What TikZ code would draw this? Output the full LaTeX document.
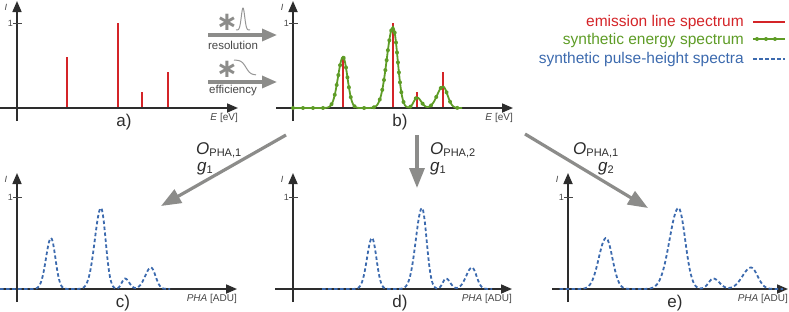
\documentclass[tikz,border=0pt]{standalone}
\usepackage{fontspec}
\setmainfont{Liberation Sans}
\newfontfamily\symfont{DejaVu Sans}
\usetikzlibrary{arrows.meta,decorations.markings}
\definecolor{redc}{RGB}{212,36,40}
\definecolor{greenc}{RGB}{94,156,38}
\definecolor{bluec}{RGB}{60,106,174}
\definecolor{grayarrow}{RGB}{140,140,138}
\definecolor{axisc}{RGB}{45,45,45}
\definecolor{labelc}{RGB}{70,70,70}
\definecolor{glyphc}{RGB}{150,150,150}

\pgfmathdeclarefunction{gs}{3}{%
  \pgfmathparse{exp(max(-15,-0.5*((#1-#2)/#3)*((#1-#2)/#3)))}%
}
\pgfmathdeclarefunction{gsa}{4}{%
  \pgfmathparse{gs(#1,#2,#3+(#4-#3)*(#1>#2))}%
}
\pgfmathdeclarefunction{spec}{1}{%
  \pgfmathparse{51*gsa(#1,50,5.0,4.4)+81*gsa(#1,100,6.2,4.6)+10.5*gsa(#1,124,3.2,4.2)+21.5*gsa(#1,150,5.8,4.5)}%
}

\tikzset{
  axisarrow/.style={draw=axisc, line width=1.7pt, -{Triangle[length=11pt,width=9pt]}},
  tickmark/.style={draw=labelc, line width=0.8pt},
  ticklbl/.style={font=\fontsize{9}{9}\selectfont, text=labelc, inner sep=0pt},
  ilbl/.style={font=\fontsize{9}{9}\selectfont\itshape, text=labelc, inner sep=0pt},
  xlbl/.style={font=\fontsize{10}{10}\selectfont, text=labelc, inner sep=0pt, anchor=east},
  plbl/.style={font=\fontsize{17}{17}\selectfont, text=axisc, inner sep=0pt},
  emline/.style={draw=redc, line width=1.6pt},
  emlinethin/.style={draw=redc, line width=1.2pt},
  legred/.style={draw=redc, line width=2pt},
  enspec/.style={draw=greenc, line width=1.8pt},
  endots/.style={postaction={decorate, decoration={markings,
      mark=between positions 0 and 1 step 10pt with {\fill[greenc] (0,0) circle (2pt);}}}},
  phaspec/.style={draw=bluec, line width=1.8pt, dash pattern=on 3.5pt off 2.5pt},
  bigarrow/.style={draw=grayarrow, line width=3.2pt, -{Triangle[length=20pt,width=15pt]}},
  smallarrow/.style={draw=grayarrow, line width=3.2pt, -{Triangle[length=15pt,width=12pt]}},
  oplbl/.style={font=\fontsize{17}{17}\selectfont, text=axisc, inner sep=0pt, anchor=base west},
  proclbl/.style={font=\fontsize{11.5}{11.5}\selectfont, text=labelc, inner sep=0pt},
  astlbl/.style={font=\symfont\bfseries\fontsize{26}{26}\selectfont, text=grayarrow, inner sep=0pt, anchor=base},
  glyph/.style={draw=glyphc, line width=1pt},
  legtxt/.style={font=\fontsize{15.5}{15.5}\selectfont, anchor=east, inner sep=0pt},
}

\newcommand\spaxes[8]{%
  \coordinate (#1xs) at (#4,#3);
  \coordinate (#1xe) at (#5,#3);
  \coordinate (#1yb) at (#2,#3+13);
  \coordinate (#1yt) at (#2,#6);
  \coordinate (#1tl) at (#2-4,#7);
  \coordinate (#1tr) at (#2+5,#7);
  \draw[axisarrow] (#1xs) -- (#1xe);
  \draw[axisarrow] (#1yb) -- (#1yt);
  \draw[tickmark] (#1tl) -- (#1tr);
  \node[ticklbl, anchor=east] (#1one) at (#1tl) {1};
  \node[ilbl] (#1I) at (#2-11,#6+6) {I};
  \node[xlbl] (#1xl) at (#5,#3+10) {#8};
}
\newcommand\opsub[1]{\raisebox{-2.5pt}{\fontsize{11}{11}\selectfont\upshape #1}}

\begin{document}
\begin{tikzpicture}[x=1pt,y=-1pt]
\useasboundingbox (0,0) rectangle (789,311);

% ---------- panel a: emission lines
\coordinate (a1b) at (67,108);  \coordinate (a1t) at (67,57);
\coordinate (a2b) at (118,108); \coordinate (a2t) at (118,23);
\coordinate (a3b) at (142,108); \coordinate (a3t) at (142,92);
\coordinate (a4b) at (168,108); \coordinate (a4t) at (168,72);
\draw[emline] (a1b) -- (a1t);
\draw[emline] (a2b) -- (a2t);
\draw[emline] (a3b) -- (a3t);
\draw[emline] (a4b) -- (a4t);
\spaxes{a}{17}{108}{0}{238}{1}{23}{\textit{E} [eV]}
\node[plbl] (pa) at (124,122) {a)};

% ---------- panel b: energy spectrum
\coordinate (b1b) at (343,108); \coordinate (b1t) at (343,57);
\coordinate (b2b) at (393,108); \coordinate (b2t) at (393,23);
\coordinate (b3b) at (417,108); \coordinate (b3t) at (417,92);
\coordinate (b4b) at (443,108); \coordinate (b4t) at (443,72);
\draw[emlinethin] (b1b) -- (b1t);
\draw[emlinethin] (b2b) -- (b2t);
\draw[emlinethin] (b3b) -- (b3t);
\draw[emlinethin] (b4b) -- (b4t);
\spaxes{b}{293}{108}{276}{513}{1}{23}{\textit{E} [eV]}
\draw[enspec, endots] plot[domain=0:169, samples=170] ({293+\x},{108-spec(\x)});
\node[plbl] (pb) at (400,122) {b)};

% ---------- processing arrows between a and b
\coordinate (r1) at (208,35); \coordinate (r2) at (277,35);
\coordinate (f1) at (208,82); \coordinate (f2) at (277,82);
\draw[smallarrow] (r1) -- (r2);
\draw[smallarrow] (f1) -- (f2);
\node[astlbl] (ast1) at (227,30) {∗};
\node[astlbl] (ast2) at (227,77.5) {∗};
\draw[glyph] plot[domain=236:250, samples=60] (\x,{30-22*gs(\x,243,1.7)});
\draw[glyph] plot[domain=234:256, samples=60] (\x,{60+15/(1+exp(-(\x-246)/2.3))});
\node[proclbl] (res) at (233,45) {resolution};
\node[proclbl] (eff) at (233,90.5) {efficiency};

% ---------- legend
\node[legtxt, text=redc] (lg1) at (744,22) {emission line spectrum};
\node[legtxt, text=greenc] (lg2) at (744,40) {synthetic energy spectrum};
\node[legtxt, text=bluec] (lg3) at (744,59.5) {synthetic pulse-height spectra};
\coordinate (lr1) at (753,22); \coordinate (lr2) at (785,22);
\coordinate (lgr1) at (753,39); \coordinate (lgr2) at (785,39);
\coordinate (lb1) at (753,59); \coordinate (lb2) at (785,59);
\draw[legred] (lr1) -- (lr2);
\draw[enspec] (lgr1) -- (lgr2);
\fill[greenc] (757,39) circle (2pt) (766,39) circle (2pt) (775,39) circle (2pt);
\draw[phaspec] (lb1) -- (lb2);

% ---------- panels c, d, e: pulse-height spectra
\spaxes{c}{17}{289}{0}{237}{173}{197}{\textit{PHA} [ADU]}
\draw[phaspec] plot[domain=-1:169, samples=171] ({1+\x},{289-spec(\x)});
\node[plbl] (pc) at (123,303) {c)};

\spaxes{d}{293}{289}{275}{512}{173}{197}{\textit{PHA} [ADU]}
\draw[phaspec] plot[domain=0:170, samples=171] ({322+\x},{289-spec(\x)});
\node[plbl] (pd) at (400,303) {d)};

\spaxes{e}{568}{289}{552}{788}{173}{197}{\textit{PHA} [ADU]}
\draw[phaspec] plot[domain=18:172, samples=200] ({533.5+1.45*\x},{289-spec(\x)});
\node[plbl] (pe) at (675,303) {e)};

% ---------- big arrows
\coordinate (cs) at (286,135); \coordinate (ce) at (161,206);
\coordinate (ds) at (417,135); \coordinate (de) at (417,188);
\coordinate (es) at (525,134); \coordinate (ee) at (648,208);
\draw[bigarrow] (cs) -- (ce);
\draw[bigarrow] (ds) -- (de);
\draw[bigarrow] (es) -- (ee);

\node[oplbl] (oc) at (196,154) {\textit{O}\opsub{PHA,1}};
\node[oplbl] (gc) at (197,171) {\textit{g}\opsub{1}};
\node[oplbl] (od) at (430,154) {\textit{O}\opsub{PHA,2}};
\node[oplbl] (gd) at (430,171) {\textit{g}\opsub{1}};
\node[oplbl] (oe) at (573,154) {\textit{O}\opsub{PHA,1}};
\node[oplbl] (ge) at (598,171) {\textit{g}\opsub{2}};
\end{tikzpicture}
\end{document}
